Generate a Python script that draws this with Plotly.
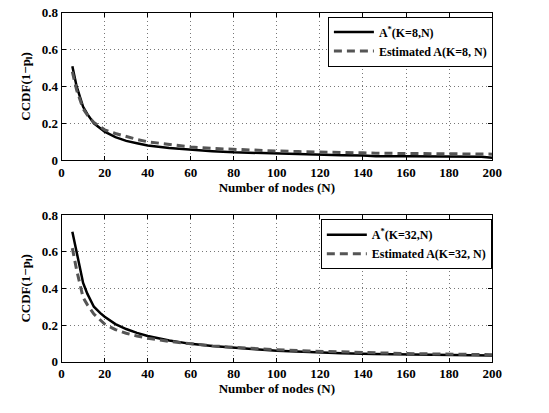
import plotly.graph_objects as go
from plotly.subplots import make_subplots

# Number of nodes
n_top = [5, 7, 10, 12, 15, 18, 20, 25, 30, 35, 40, 50, 60, 70, 80, 90, 100, 110, 118, 120, 130, 140, 146, 160, 180, 195, 200]
# A*(K=8,N)
a8 = [0.51, 0.40, 0.29, 0.25, 0.20, 0.175, 0.155, 0.125, 0.105, 0.092, 0.080, 0.066, 0.056, 0.049, 0.043, 0.039, 0.035, 0.033, 0.031, 0.027, 0.027, 0.026, 0.022, 0.022, 0.021, 0.019, 0.014]
# Estimated A(K=8,N)
e8 = [0.48, 0.38, 0.28, 0.245, 0.205, 0.18, 0.165, 0.145, 0.128, 0.113, 0.100, 0.085, 0.072, 0.064, 0.058, 0.054, 0.050, 0.047, 0.046, 0.043, 0.041, 0.040, 0.038, 0.037, 0.035, 0.034, 0.033]

n_bot = [5, 7, 10, 12, 15, 18, 20, 25, 30, 35, 40, 50, 60, 70, 80, 90, 100, 115, 130, 145, 160, 172, 180, 200]
# A*(K=32,N)
a32 = [0.71, 0.60, 0.43, 0.37, 0.30, 0.265, 0.245, 0.205, 0.178, 0.157, 0.140, 0.115, 0.097, 0.085, 0.074, 0.067, 0.060, 0.052, 0.046, 0.042, 0.040, 0.036, 0.035, 0.033]
# Estimated A(K=32,N)
e32 = [0.62, 0.50, 0.35, 0.31, 0.26, 0.225, 0.205, 0.175, 0.155, 0.140, 0.128, 0.110, 0.096, 0.086, 0.078, 0.071, 0.065, 0.058, 0.052, 0.047, 0.044, 0.042, 0.040, 0.038]

x_ticks = list(range(0, 201, 20))
y_ticks = [0, 0.2, 0.4, 0.6, 0.8]

FONT = "Times New Roman, Liberation Serif, serif"

fig = make_subplots(rows=2, cols=1)

solid = dict(color="black", width=2.5)
dashed = dict(color="#555555", width=3, dash="8px,5px")

fig.add_trace(go.Scatter(x=n_top, y=a8, mode="lines", name="A<sup>*</sup>(K=8,N)",
                         line=solid, legend="legend"), row=1, col=1)
fig.add_trace(go.Scatter(x=n_top, y=e8, mode="lines", name="Estimated A(K=8, N)",
                         line=dashed, legend="legend"), row=1, col=1)
fig.add_trace(go.Scatter(x=n_bot, y=a32, mode="lines", name="A<sup>*</sup>(K=32,N)",
                         line=solid, legend="legend2"), row=2, col=1)
fig.add_trace(go.Scatter(x=n_bot, y=e32, mode="lines", name="Estimated A(K=32, N)",
                         line=dashed, legend="legend2"), row=2, col=1)

axis_common = dict(
    showline=True, linecolor="black", linewidth=1, mirror="ticks",
    ticks="inside", ticklen=4, tickcolor="black",
    showgrid=True, gridcolor="#777777", griddash="1px,3px", gridwidth=1,
    zeroline=False,
    tickfont=dict(family=FONT, size=13, color="black", weight="bold"),
)
title_font = dict(family=FONT, size=13, color="black", weight="bold")

for r, dom in [(1, [0.615, 0.9855]), (2, [0.109, 0.477])]:
    fig.update_xaxes(range=[0, 200], tickvals=x_ticks, domain=[0.1093, 0.9126],
                     title=dict(text="Number of nodes (N)", standoff=3, font=title_font),
                     **axis_common, row=r, col=1)
    fig.update_yaxes(range=[0, 0.8], tickvals=y_ticks, ticktext=["0", "0.2", "0.4", "0.6", "0.8"],
                     domain=dom,
                     title=dict(text="CCDF(1\u2212p<sub>l</sub>)", standoff=8, font=title_font),
                     **axis_common, row=r, col=1)

legend_common = dict(
    bgcolor="white", bordercolor="black", borderwidth=1,
    font=dict(family=FONT, size=12, color="black", weight="bold"),
    xanchor="right", yanchor="top", tracegroupgap=0, itemwidth=40,
)
fig.update_layout(
    width=549, height=413,
    margin=dict(l=0, r=0, t=0, b=0),
    paper_bgcolor="white", plot_bgcolor="white",
    showlegend=True,
    legend=dict(x=0.914, y=0.976, **legend_common),
    legend2=dict(x=0.912, y=0.467, **legend_common),
)

fig.write_html("out.html")
